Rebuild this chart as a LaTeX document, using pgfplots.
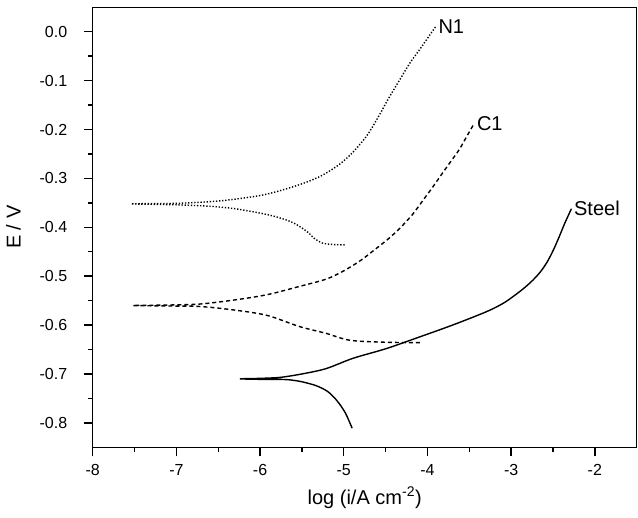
\documentclass[border=0pt]{standalone}
\usepackage{pgfplots}
\pgfplotsset{compat=1.18}
\usepackage{fontspec}
\setmainfont{Liberation Sans}
\begin{document}
\begin{tikzpicture}
\begin{axis}[
  scale only axis,
  width=544pt, height=440pt,
  xmin=-8, xmax=-1.5,
  ymin=-0.85, ymax=0.05,
  xtick={-8,-7,-6,-5,-4,-3,-2},
  ytick={-0.8,-0.7,-0.6,-0.5,-0.4,-0.3,-0.2,-0.1,0.0},
  minor x tick num=1,
  minor y tick num=1,
  tick pos=left,
  tick align=outside,
  major tick length=9pt,
  minor tick length=5pt,
  tick style={line width=1.4pt, black},
  axis line style={line width=1.4pt},
  /pgf/number format/assume math mode=true,
  yticklabel style={font=\fontsize{16}{18}\selectfont, xshift=-13pt, /pgf/number format/.cd, fixed, fixed zerofill, precision=1},
  xticklabel style={font=\fontsize{16}{18}\selectfont, yshift=-5pt, /pgf/number format/.cd, fixed, precision=0},
  xlabel={log (i/A cm\textsuperscript{-2})},
  ylabel={E / V},
  label style={font=\fontsize{20}{24}\selectfont},
  xlabel style={yshift=-4pt},
  ylabel style={yshift=12pt},
  clip=false,
]
% N1 (dotted)
\addplot[black, line width=1.4pt, dash pattern=on 1.3pt off 1.8pt, smooth, tension=0.5] coordinates {
(-4.99,-0.436) (-5.15,-0.435) (-5.26,-0.432) (-5.35,-0.423) (-5.43,-0.410) (-5.53,-0.398) (-5.64,-0.388) (-5.82,-0.378) (-6.00,-0.371) (-6.30,-0.362) (-6.60,-0.357) (-7.00,-0.354) (-7.54,-0.352)
(-7.00,-0.351) (-6.48,-0.346) (-6.00,-0.335) (-5.70,-0.322) (-5.45,-0.308) (-5.25,-0.293) (-5.05,-0.271) (-4.90,-0.248) (-4.73,-0.214) (-4.60,-0.178) (-4.46,-0.135) (-4.33,-0.098) (-4.21,-0.064) (-4.10,-0.038) (-4.01,-0.016) (-3.90,0.011)
} node[pos=1, anchor=west, inner sep=2pt, font=\fontsize{20}{24}\selectfont] {N1};
% C1 (dashed)
\addplot[black, line width=1.4pt, dash pattern=on 4pt off 3pt, smooth, tension=0.5] coordinates {
(-4.09,-0.636) (-4.53,-0.635) (-4.93,-0.631) (-5.21,-0.617) (-5.53,-0.603) (-5.92,-0.580) (-6.32,-0.569) (-6.72,-0.562) (-7.10,-0.561) (-7.52,-0.560)
(-7.10,-0.559) (-6.72,-0.557) (-6.32,-0.549) (-5.92,-0.538) (-5.53,-0.521) (-5.21,-0.506) (-5.01,-0.490) (-4.80,-0.468) (-4.61,-0.443) (-4.47,-0.424) (-4.33,-0.402) (-4.18,-0.374) (-4.05,-0.344) (-3.93,-0.316) (-3.82,-0.289) (-3.72,-0.265) (-3.62,-0.241) (-3.53,-0.214) (-3.44,-0.187)
} node[pos=1, anchor=west, inner sep=2pt, font=\fontsize{20}{24}\selectfont] {C1};
% Steel (solid)
\addplot[black, line width=1.4pt, smooth, tension=0.5] coordinates {
(-4.90,-0.811) (-4.94,-0.795) (-4.98,-0.780) (-5.04,-0.764) (-5.11,-0.749) (-5.20,-0.735) (-5.33,-0.724) (-5.50,-0.716) (-5.65,-0.712) (-5.80,-0.711) (-6.00,-0.711) (-6.24,-0.710)
(-6.00,-0.709) (-5.76,-0.707) (-5.50,-0.700) (-5.21,-0.689) (-4.89,-0.668) (-4.49,-0.648) (-4.09,-0.624) (-3.70,-0.600) (-3.30,-0.573) (-3.10,-0.556) (-2.98,-0.542) (-2.85,-0.525) (-2.74,-0.508) (-2.65,-0.491) (-2.57,-0.471) (-2.50,-0.448) (-2.43,-0.421) (-2.36,-0.392) (-2.28,-0.362)
} node[pos=1, anchor=west, inner sep=2pt, font=\fontsize{20}{24}\selectfont] {Steel};
\end{axis}
\pgfresetboundingbox
\path ([shift={(-92.7pt,-70.7pt)}]current axis.south west) rectangle ([shift={(1.3pt,7.3pt)}]current axis.north east);
\end{tikzpicture}
\end{document}
